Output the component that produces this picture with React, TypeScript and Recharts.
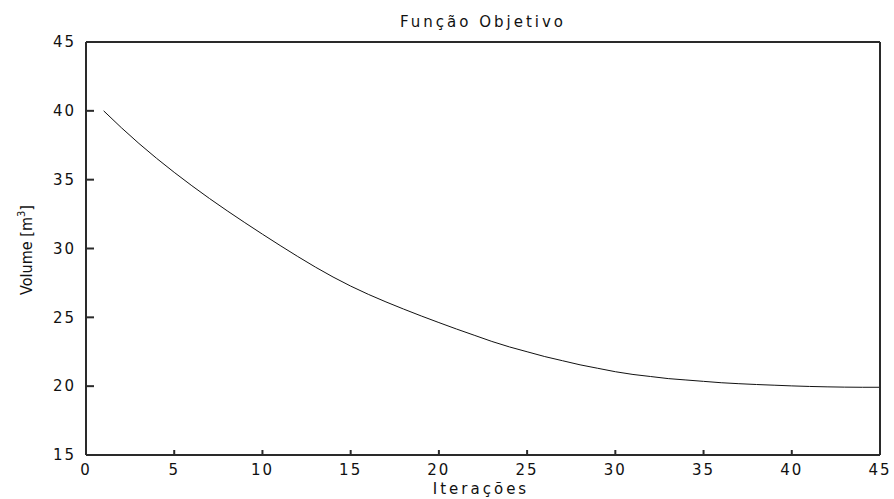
import React from 'react';
import { LineChart, Line, XAxis, YAxis, Label } from 'recharts';

const iterations = [
  1, 2, 3, 4, 5, 6, 7, 8, 9, 10, 11, 12, 13, 14, 15, 16, 17, 18, 19, 20, 21, 22, 23,
  24, 25, 26, 27, 28, 29, 30, 31, 32, 33, 34, 35, 36, 37, 38, 39, 40, 41, 42, 43, 44, 45,
];
const volume = [
  40.0, 38.78, 37.63, 36.55, 35.53, 34.56, 33.63, 32.74, 31.88, 31.04, 30.22, 29.42,
  28.65, 27.93, 27.27, 26.67, 26.12, 25.6, 25.1, 24.62, 24.15, 23.7, 23.25, 22.85,
  22.5, 22.15, 21.85, 21.55, 21.3, 21.05, 20.85, 20.7, 20.55, 20.45, 20.35, 20.25,
  20.18, 20.12, 20.07, 20.02, 19.98, 19.95, 19.93, 19.92, 19.92,
];
const xTicks = [0, 5, 10, 15, 20, 25, 30, 35, 40, 45];
const yTicks = [15, 20, 25, 30, 35, 40, 45];
const xDomain = [0, 45];
const yDomain = [15, 45];

const title = 'Função Objetivo';
const xLabel = 'Iterações';

const data = iterations.map((it, i) => ({ iter: it, vol: volume[i] }));

const FONT = '"DejaVu Sans", sans-serif';
const AXIS = '#2a2a2a';
const tickStyle = { fontSize: 15, fontFamily: FONT, fill: '#111', letterSpacing: 2 };

const XLabel = () => (
  <text x={481} y={494} textAnchor="middle" fontSize={15} fontFamily={FONT} letterSpacing={3} fill="#111">
    {xLabel}
  </text>
);

const YLabel = () => (
  <text
    x={0}
    y={0}
    transform="translate(32,250) rotate(-90)"
    textAnchor="middle"
    fontSize={16}
    fontFamily={FONT}
    fill="#111"
    textLength={90}
    lengthAdjust="spacingAndGlyphs"
  >
    Volume [m
    <tspan dy={-7} fontSize={11}>3</tspan>
    <tspan dy={7}>]</tspan>
  </text>
);

export default function App() {
  return (
    <div style={{ position: 'absolute', left: 0, top: 0, width: 894, height: 499, background: '#fff' }}>
      <div
        style={{
          position: 'absolute',
          left: 0,
          width: 966,
          top: 13,
          textAlign: 'center',
          fontFamily: FONT,
          fontSize: 15,
          letterSpacing: 3,
          color: '#111',
          lineHeight: '18px',
        }}
      >
        {title}
      </div>
      <LineChart width={894} height={499} data={data} margin={{ top: 42, right: 14, bottom: 14, left: 0 }}>
        <XAxis
          xAxisId="bottom"
          dataKey="iter"
          type="number"
          domain={xDomain}
          ticks={xTicks}
          orientation="bottom"
          height={30}
          tickSize={-5}
          tickMargin={14}
          stroke={AXIS}
          strokeWidth={2}
          tick={tickStyle}
          axisLine
          tickLine
          allowDataOverflow
        >
          <Label content={XLabel} />
        </XAxis>
        <XAxis
          xAxisId="top"
          dataKey="iter"
          type="number"
          domain={xDomain}
          ticks={xTicks}
          orientation="top"
          mirror
          height={30}
          tickSize={5}
          tick={false}
          stroke={AXIS}
          strokeWidth={2}
          axisLine
          tickLine
        />
        <YAxis
          yAxisId="left"
          type="number"
          domain={yDomain}
          ticks={yTicks}
          orientation="left"
          width={86}
          tickSize={-8}
          tickMargin={18}
          stroke={AXIS}
          strokeWidth={2}
          tick={tickStyle}
          axisLine
          tickLine
          allowDataOverflow
        >
          <Label content={YLabel} />
        </YAxis>
        <YAxis
          yAxisId="right"
          type="number"
          domain={yDomain}
          ticks={yTicks}
          orientation="right"
          mirror
          width={30}
          tickSize={8}
          tick={false}
          stroke={AXIS}
          strokeWidth={2}
          axisLine
          tickLine
        />
        <Line
          xAxisId="bottom"
          yAxisId="left"
          type="linear"
          dataKey="vol"
          stroke="#111"
          strokeWidth={1}
          dot={false}
          isAnimationActive={false}
        />
      </LineChart>
    </div>
  );
}
